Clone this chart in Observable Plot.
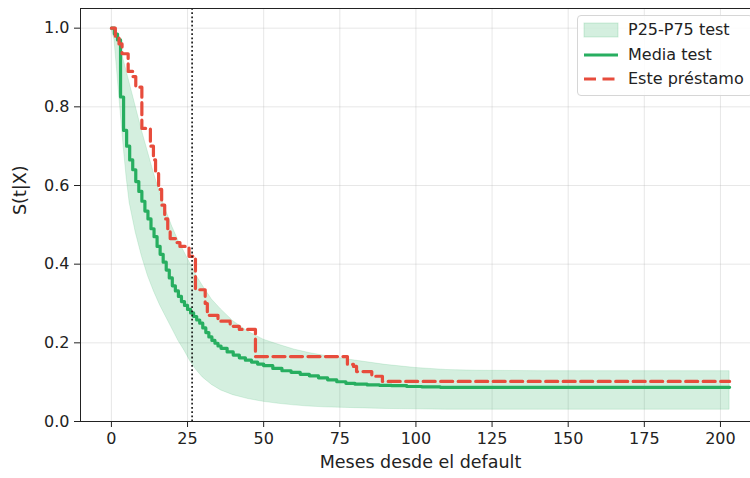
<!DOCTYPE html>
<html>
<head>
<meta charset="utf-8">
<script src="https://cdn.jsdelivr.net/npm/d3@7"></script>
<script src="https://cdn.jsdelivr.net/npm/@observablehq/plot@0.6"></script>
<style>
  html, body { margin: 0; padding: 0; overflow: hidden; background: white; }
  #wrap { position: relative; width: 750px; height: 478px; font-family: "DejaVu Sans", sans-serif; }
  #legend { position: absolute; left: 577px; top: 15px; width: 176px; height: 81px;
            border: 1px solid #d6d6d6; border-radius: 4px; background: rgba(255,255,255,0.85); box-sizing: border-box; }
  .row { position: absolute; left: 0; height: 20px; display: flex; align-items: center; }
  .row svg { position: absolute; left: 5px; }
  .row span { position: absolute; left: 50px; font-size: 16px; color: #222; white-space: nowrap; line-height: 20px; }
</style>
</head>
<body>
<div id="wrap"></div>
<script>
// ---- data ----
const xTicks = [0, 25, 50, 75, 100, 125, 150, 175, 200];
const yTicks = [0.0, 0.2, 0.4, 0.6, 0.8, 1.0];

// P25-P75 band (test set)
const bandT  = [0, 1, 2, 3, 4, 5, 6, 8, 10, 12, 14, 16, 18, 20, 22, 24, 26, 28, 30, 33, 36, 40, 45, 50, 55, 60, 65, 70, 80, 90, 100, 110, 120, 140, 160, 180, 203];
const bandLo = [1.0, 0.97, 0.88, 0.79, 0.70, 0.62, 0.555, 0.48, 0.42, 0.37, 0.33, 0.295, 0.265, 0.235, 0.205, 0.18, 0.152, 0.13, 0.112, 0.093, 0.079, 0.067, 0.057, 0.050, 0.045, 0.041, 0.038, 0.036, 0.034, 0.032, 0.031, 0.030, 0.030, 0.030, 0.030, 0.030, 0.030];
const bandHi = [1.0, 0.99, 0.975, 0.95, 0.92, 0.89, 0.86, 0.80, 0.74, 0.685, 0.63, 0.58, 0.535, 0.495, 0.46, 0.43, 0.40, 0.37, 0.345, 0.31, 0.285, 0.255, 0.228, 0.208, 0.195, 0.183, 0.174, 0.167, 0.155, 0.144, 0.136, 0.131, 0.129, 0.128, 0.128, 0.128, 0.128];

// Mean test curve (step)
const meanT = [0,1,2,3,4,5,6,7,8,9,10,11,12,13,14,15,16,17,18,19,20,21,22,23,24,25,26,27,28,29,30,31,32,33,34,35,36,38,40,42,44,46,48,50,53,56,59,62,65,68,71,74,77,80,84,88,92,97,102,108,203];
const meanS = [1.0,0.985,0.97,0.825,0.74,0.70,0.665,0.64,0.61,0.585,0.56,0.535,0.515,0.49,0.47,0.445,0.425,0.405,0.385,0.365,0.345,0.332,0.318,0.305,0.295,0.285,0.276,0.267,0.258,0.25,0.238,0.226,0.215,0.206,0.199,0.192,0.186,0.177,0.169,0.162,0.156,0.151,0.146,0.142,0.135,0.129,0.125,0.12,0.116,0.111,0.106,0.101,0.097,0.095,0.093,0.092,0.091,0.089,0.088,0.087,0.087];

// This loan (step)
const loanT = [0, 1.3, 2.5, 3.5, 5.5, 7, 8, 10, 12.8, 13.8, 14.5, 15.5, 16.5, 17.5, 18.5, 19.3, 21.5, 22.5, 25.5, 27.6, 30.8, 31.5, 35, 39, 42, 47.3, 77.5, 79.5, 80.5, 85.5, 89, 203];
const loanS = [1.0, 0.975, 0.96, 0.935, 0.89, 0.877, 0.85, 0.745, 0.70, 0.665, 0.63, 0.59, 0.55, 0.515, 0.49, 0.465, 0.455, 0.445, 0.42, 0.335, 0.30, 0.27, 0.255, 0.242, 0.234, 0.165, 0.145, 0.14, 0.127, 0.115, 0.102, 0.102];

// reference month (vertical dotted line)
const refMonth = [26.5];

const labels = { x: "Meses desde el default", y: "S(t|X)" };
const legendItems = ["P25-P75 test", "Media test", "Este préstamo"];

const GREEN = "#27ae60", RED = "#e74c3c";

const band = bandT.map((t, i) => ({ t, lo: bandLo[i], hi: bandHi[i] }));
const mean = meanT.map((t, i) => ({ t, s: meanS[i] }));
const loan = loanT.map((t, i) => ({ t, s: loanS[i] }));

const chart = Plot.plot({
  width: 750,
  height: 478,
  marginLeft: 80,
  marginRight: -10,
  marginTop: 8,
  marginBottom: 57,
  style: { fontFamily: "DejaVu Sans", fontSize: "16px", color: "#222", background: "white", overflow: "hidden" },
  x: { domain: [-10.15, 213.15] },
  y: { domain: [0, 1.05] },
  marks: [
    Plot.gridX(xTicks, { stroke: "#b0b0b0", strokeOpacity: 0.3, strokeWidth: 1 }),
    Plot.gridY(yTicks, { stroke: "#b0b0b0", strokeOpacity: 0.3, strokeWidth: 1 }),
    Plot.areaY(band, { x: "t", y1: "lo", y2: "hi", fill: GREEN, fillOpacity: 0.2, stroke: GREEN, strokeOpacity: 0.15, strokeWidth: 1 }),
    Plot.line(mean, { x: "t", y: "s", curve: "step-after", stroke: GREEN, strokeWidth: 3.2 }),
    Plot.line(loan, { x: "t", y: "s", curve: "step-after", stroke: RED, strokeWidth: 3.2, strokeDasharray: "12,5.5" }),
    Plot.ruleX(refMonth, { stroke: "#111", strokeWidth: 1.6, strokeDasharray: "1.8,2.4" }),
    Plot.frame({ stroke: "#222", strokeWidth: 1 }),
    Plot.axisX(xTicks, { tickSize: 6, tickPadding: 5, fontSize: 16, label: null, stroke: "#222" }),
    Plot.axisY(yTicks, { tickSize: 6, tickPadding: 5, fontSize: 16, label: null, tickFormat: d => d.toFixed(1), stroke: "#222" }),
    Plot.text([labels.x], { frameAnchor: "bottom", text: d => d, dy: 46, fontSize: 17.5, fill: "#222" }),
    Plot.text([labels.y], { frameAnchor: "left", text: d => d, dx: -60, rotate: -90, fontSize: 17.5, fill: "#222" })
  ]
});

const wrap = document.getElementById("wrap");
wrap.appendChild(chart);

// legend (HTML overlay)
const legend = document.createElement("div");
legend.id = "legend";
const swatches = [
  `<svg width="36" height="16"><rect x="1" y="1" width="34" height="14" fill="${GREEN}" fill-opacity="0.2" stroke="${GREEN}" stroke-opacity="0.2"/></svg>`,
  `<svg width="36" height="16"><line x1="1" y1="8" x2="35" y2="8" stroke="${GREEN}" stroke-width="3.2"/></svg>`,
  `<svg width="36" height="16"><line x1="1" y1="8" x2="35" y2="8" stroke="${RED}" stroke-width="3.2" stroke-dasharray="12,6.5"/></svg>`
];
const rowTops = [4, 28.5, 53];
legendItems.forEach((name, i) => {
  const row = document.createElement("div");
  row.className = "row";
  row.style.top = rowTops[i] + "px";
  row.innerHTML = swatches[i] + `<span>${name}</span>`;
  legend.appendChild(row);
});
wrap.appendChild(legend);
</script>
</body>
</html>
